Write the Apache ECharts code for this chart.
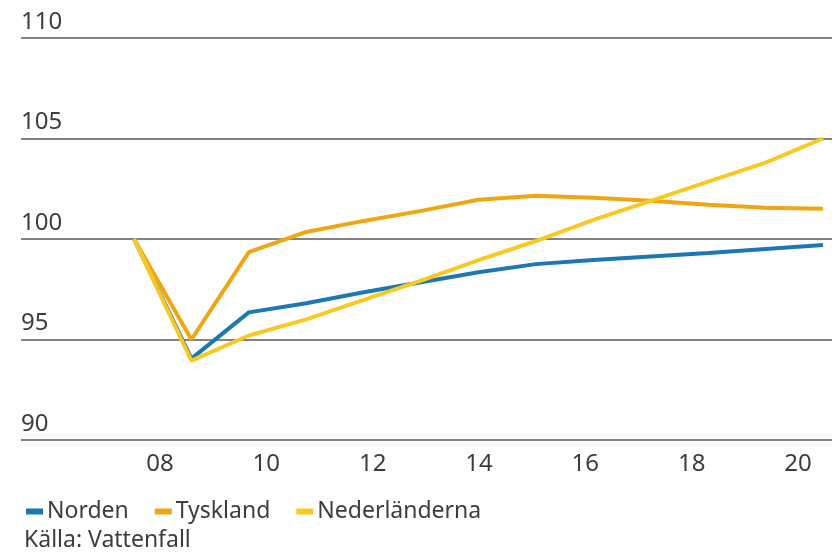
<!DOCTYPE html>
<html>
<head>
<meta charset="utf-8">
<script src="https://cdn.jsdelivr.net/npm/echarts@6/dist/echarts.min.js"></script>
<style>html,body{margin:0;padding:0;background:#fff;}#c{width:832px;height:555px;}</style>
</head>
<body>
<div id="c"></div>
<script>
const years = [2008, 2009, 2010, 2011, 2012, 2013, 2014, 2015, 2016, 2017, 2018, 2019, 2020];
const norden = [100, 94.05, 96.35, 96.8, 97.35, 97.85, 98.35, 98.75, 98.95, 99.13, 99.3, 99.5, 99.7];
const tyskland = [100, 95.0, 99.35, 100.35, 100.9, 101.4, 101.95, 102.15, 102.05, 101.9, 101.7, 101.55, 101.5];
const nederlanderna = [100, 93.95, 95.2, 96.0, 96.97, 97.93, 98.95, 99.9, 100.95, 101.9, 102.85, 103.8, 105.0];
const yTicks = {min: 90, max: 110, interval: 5};
const xTicks = {min: 8, max: 20, interval: 2};
const names = ['Norden', 'Tyskland', 'Nederländerna'];
const colors = ['#1b78b4', '#f0a513', '#f8c823'];

const font = 'Noto Sans';
const textColor = '#3d3d3d';
const pair = (arr) => years.map((y, i) => [y, arr[i]]);

const chart = echarts.init(document.getElementById('c'));
chart.setOption({
  animation: false,
  backgroundColor: '#fff',
  title: {
    text: 'Källa: Vattenfall',
    left: 19, top: 524,
    textStyle: {fontFamily: font, fontSize: 23, fontWeight: 'normal', color: textColor}
  },
  legend: {
    left: 21, top: 495,
    itemWidth: 17, itemHeight: 6, itemGap: 26,
    icon: 'rect',
    textStyle: {fontFamily: font, fontSize: 23, color: textColor, padding: [0, 0, 0, -1]},
    data: names
  },
  grid: [
    {left: 21, right: 0, top: 38, bottom: 115},
    {left: 160, right: 34, top: 38, bottom: 115}
  ],
  xAxis: [
    {type: 'value', gridIndex: 0, min: 2006.032, max: 2020.157, show: false},
    {type: 'value', gridIndex: 1, min: xTicks.min, max: xTicks.max, interval: xTicks.interval,
     axisLine: {show: false}, axisTick: {show: false}, splitLine: {show: false},
     axisLabel: {margin: 12, fontFamily: font, fontSize: 24, color: textColor,
       formatter: v => String(v).padStart(2, '0')}}
  ],
  yAxis: [
    {type: 'value', gridIndex: 0, min: yTicks.min, max: yTicks.max, interval: yTicks.interval,
     axisLine: {show: false}, axisTick: {show: false},
     splitLine: {lineStyle: {color: '#5a5a5a', width: 1.5}},
     axisLabel: {inside: true, margin: 0, verticalAlign: 'bottom', padding: [0, 0, 4, 0],
       fontFamily: font, fontSize: 24, color: textColor}},
    {type: 'value', gridIndex: 1, show: false}
  ],
  series: [norden, tyskland, nederlanderna].map((d, i) => ({
    name: names[i], type: 'line', xAxisIndex: 0, yAxisIndex: 0,
    data: pair(d), symbol: 'none', color: colors[i],
    lineStyle: {width: 4, color: colors[i]}
  }))
});
</script>
</body>
</html>
